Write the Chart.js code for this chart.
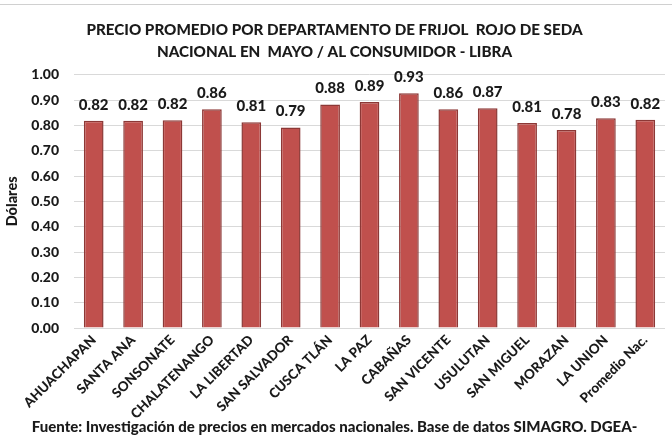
<!DOCTYPE html>
<html>
<head>
<meta charset="utf-8">
<script src="https://cdn.jsdelivr.net/npm/chart.js@4.4.1/dist/chart.umd.min.js"></script>
<style>
  html, body { margin: 0; padding: 0; background: #ffffff; }
  #wrap { position: relative; width: 672px; height: 440px; }
  #topline { position: absolute; left: 0; top: 4px; width: 672px; height: 1px; background: #d0d0d0; }
  canvas { display: block; }
</style>
</head>
<body>
<div id="wrap">
  <div id="topline"></div>
  <canvas id="c" width="672" height="440"></canvas>
</div>
<script>
const categories = ["AHUACHAPAN", "SANTA ANA", "SONSONATE", "CHALATENANGO", "LA LIBERTAD", "SAN SALVADOR", "CUSCA TLÁN", "LA PAZ", "CABAÑAS", "SAN VICENTE", "USULUTAN", "SAN MIGUEL", "MORAZAN", "LA UNION", "Promedio Nac."];
const prices = [0.818, 0.818, 0.820, 0.864, 0.813, 0.792, 0.883, 0.892, 0.927, 0.864, 0.868, 0.810, 0.782, 0.828, 0.822];
const titleLines = ["PRECIO PROMEDIO POR DEPARTAMENTO DE FRIJOL  ROJO DE SEDA", "NACIONAL EN  MAYO / AL CONSUMIDOR - LIBRA"];
const yAxisTitle = "Dólares";
const sourceNote = "Fuente: Investigación de precios en mercados nacionales. Base de datos SIMAGRO. DGEA-";

const FONT = "Lato, 'Open Sans', sans-serif";
const W = 900;

const valueLabels = {
  id: 'valueLabels',
  afterDatasetsDraw(chart) {
    const ctx = chart.ctx;
    const meta = chart.getDatasetMeta(0);
    ctx.save();
    ctx.font = W + " 15px " + FONT;
    ctx.fillStyle = "#1a1a1a";
    ctx.textAlign = "center";
    ctx.textBaseline = "middle";
    meta.data.forEach((bar, i) => {
      const v = chart.data.datasets[0].data[i];
      ctx.fillText(v.toFixed(2), bar.x, bar.y - 16);
    });
    ctx.restore();
  }
};

new Chart(document.getElementById('c'), {
  type: 'bar',
  data: {
    labels: categories,
    datasets: [{
      data: prices,
      backgroundColor: '#C0504D',
      borderColor: '#8C3836',
      borderWidth: 1.5,
      barPercentage: 0.5,
      categoryPercentage: 1.0
    }]
  },
  options: {
    responsive: false,
    animation: false,
    devicePixelRatio: 1,
    layout: { padding: { left: 4, right: 7, top: 0, bottom: 0 } },
    plugins: {
      legend: { display: false },
      tooltip: { enabled: false },
      title: {
        display: true,
        text: titleLines,
        color: '#1a1a1a',
        font: { family: FONT, size: 15.2, weight: W, lineHeight: 1.44 },
        padding: { top: 19, bottom: 12 }
      },
      subtitle: {
        display: true,
        position: 'bottom',
        text: sourceNote,
        color: '#1a1a1a',
        font: { family: FONT, size: 15, weight: W, lineHeight: 1.2 },
        padding: { top: 0, bottom: 4 }
      }
    },
    scales: {
      x: {
        grid: { display: false, drawTicks: false },
        border: { display: false },
        ticks: {
          color: '#1a1a1a',
          font: { family: FONT, size: 13.5, weight: W },
          maxRotation: 45,
          minRotation: 45,
          autoSkip: false,
          padding: 4
        },
        afterFit(scale) { scale.height = 90; }
      },
      y: {
        min: 0,
        max: 1,
        grid: { color: '#d9d9d9', lineWidth: 1, drawTicks: false },
        border: { display: false },
        ticks: {
          stepSize: 0.1,
          color: '#1a1a1a',
          font: { family: FONT, size: 14, weight: W },
          padding: 15,
          callback: (v) => Number(v).toFixed(2)
        },
        title: {
          display: true,
          text: yAxisTitle,
          color: '#1a1a1a',
          font: { family: FONT, size: 14.5, weight: W },
          padding: { top: 0, bottom: 2 }
        },
        afterFit(scale) { scale.width = 70; }
      }
    }
  },
  plugins: [valueLabels]
});
</script>
</body>
</html>
